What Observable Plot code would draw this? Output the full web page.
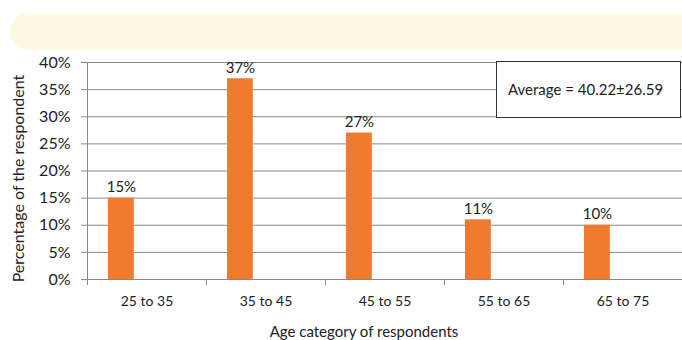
<!DOCTYPE html>
<html><head><meta charset="utf-8">
<script src="https://cdn.jsdelivr.net/npm/d3@7"></script>
<script src="https://cdn.jsdelivr.net/npm/@observablehq/plot@0.6"></script>
<style>
body{margin:0;background:#fff;}
#wrap{position:relative;width:682px;height:340px;overflow:hidden;font-family:Lato,sans-serif;}
#band{position:absolute;left:10px;top:13px;width:700px;height:37px;background:#FFF9E4;border-radius:20px;}
#avg{position:absolute;left:496px;top:61px;width:185px;height:57px;border:1px solid #333;background:#fff;box-sizing:border-box;font-size:15px;line-height:55px;padding-left:11px;color:#222;}
#chart{position:absolute;left:0;top:0;}
</style></head><body>
<div id="wrap"><div id="band"></div><div id="chart"></div><div id="avg"></div></div>
<script>
const categories = ["25 to 35","35 to 45","45 to 55","55 to 65","65 to 75"];
const percentages = [15,37,27,11,10];
const yTicks = [0,5,10,15,20,25,30,35,40];
const averageLabel = "Average = 40.22\u00b126.59";
const xTitle = "Age category of respondents";
const yTitle = "Percentage of the respondent";

const data = categories.map((c,i)=>({category:c, value:percentages[i]}));

const W = 682, H = 340, ML = 86, MR = 0, MT = 62, MB = 61;
const bandW = (W - ML - MR) / categories.length;
const barInsetLeft = 21, barWidth = 26;
const barCenterOffset = barInsetLeft + barWidth/2 - bandW/2;
const gridColor = "#8a8a8a";

function boundaryTicks(index, scales, values, dimensions) {
  const {x, y} = scales;
  const bw = x.bandwidth ? x.bandwidth() : bandW;
  const g = d3.create("svg:g").attr("stroke", gridColor).attr("stroke-width", 1);
  const xs = categories.map(c => x(c)).concat([x(categories[categories.length-1]) + bw]);
  const y0 = y(0);
  for (const px of xs) {
    const p = Math.round(px) + 0.5;
    g.append("line").attr("x1", p).attr("x2", p).attr("y1", y0).attr("y2", y0 + 6);
  }
  const p0 = Math.round(xs[0]) + 0.5;
  g.append("line").attr("x1", p0).attr("x2", p0).attr("y1", y(yTicks[yTicks.length-1])).attr("y2", y0);
  return g.node();
}

function axisTitles(index, scales, values, dimensions) {
  const {width, height, marginLeft, marginRight, marginTop, marginBottom} = dimensions;
  const g = d3.create("svg:g").attr("fill", "#222").attr("font-family", "Lato, sans-serif");
  const cy = (marginTop + height - marginBottom) / 2 + 8;
  g.append("text").attr("transform", `translate(18,${cy}) rotate(-90)`)
    .attr("text-anchor", "middle").attr("dy", "0.35em").attr("font-size", 16).text(yTitle);
  const cx = (marginLeft + width - marginRight) / 2 - 20;
  g.append("text").attr("x", cx).attr("y", height - marginBottom + 53)
    .attr("text-anchor", "middle").attr("dy", "0.35em").attr("font-size", 15).text(xTitle);
  return g.node();
}

const chart = Plot.plot({
  width: W, height: H,
  marginLeft: ML, marginRight: MR, marginTop: MT, marginBottom: MB,
  style: {background: "transparent", fontFamily: "Lato, sans-serif", color: "#222", overflow: "visible"},
  x: {type: "band", domain: categories, padding: 0},
  y: {domain: [0, 40]},
  marks: [
    Plot.ruleY(yTicks, {stroke: gridColor, strokeWidth: 1}),
    Plot.axisY({ticks: yTicks, tickSize: 5, tickPadding: 11, tickFormat: d => d + "%", fontSize: 16, label: null, stroke: gridColor}),
    Plot.axisX({tickSize: 0, tickPadding: 17, fontSize: 14, label: null}),
    boundaryTicks,
    Plot.barY(data, {x: "category", y: "value", fill: "#F07A30", insetLeft: barInsetLeft, insetRight: bandW - barInsetLeft - barWidth}),
    Plot.text(data, {x: "category", y: "value", text: d => d.value + "%", dx: barCenterOffset, dy: -6, lineAnchor: "bottom", fontSize: 15, fill: "#222"}),
    axisTitles
  ]
});
document.getElementById("chart").appendChild(chart);
document.getElementById("avg").textContent = averageLabel;
</script>
</body></html>
